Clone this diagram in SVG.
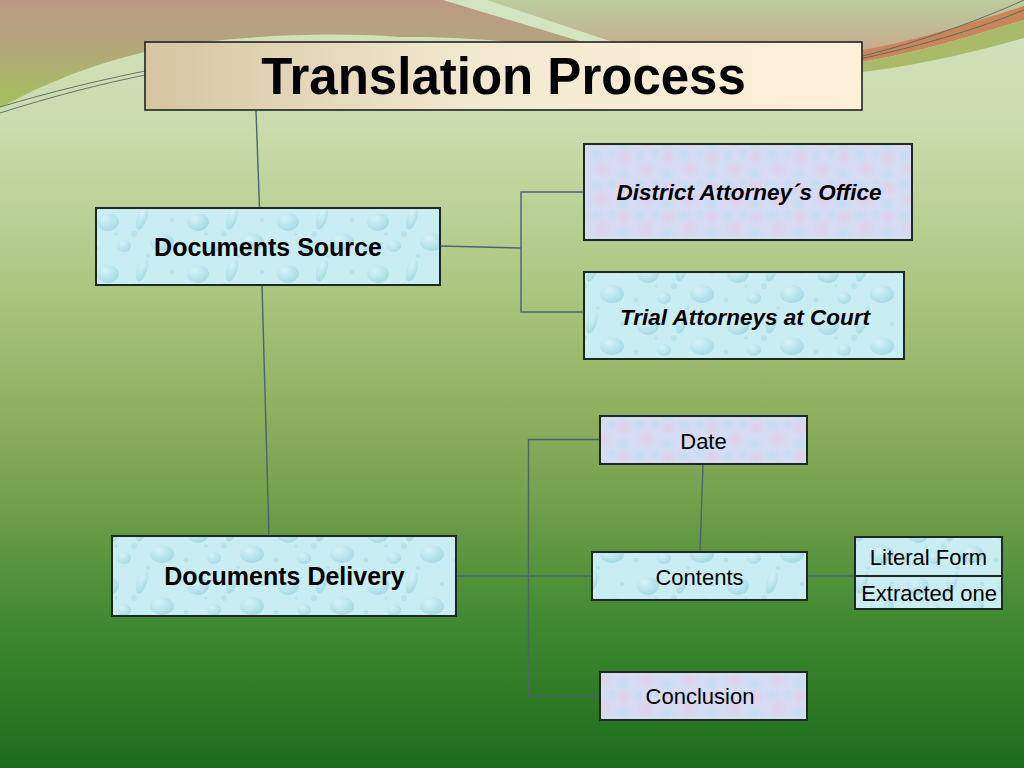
<svg xmlns="http://www.w3.org/2000/svg" width="1024" height="768" viewBox="0 0 1024 768">
<defs>
<style>
.box{stroke:#1c2a22;stroke-width:2}
.water{fill:url(#water)}
.lav{fill:url(#lav)}
.conn{fill:none;stroke:#4a6470;stroke-width:1.4}
.t{font-family:"Liberation Sans",Arial,sans-serif;fill:#000;text-anchor:middle}
.b{font-weight:bold;font-size:25px}
.bi{font-weight:bold;font-style:italic;font-size:22.5px}
.r{font-size:22px}
.thin{fill:none;stroke:#5a6460;stroke-width:0.9}
</style>
<linearGradient id="bg" x1="0" y1="0" x2="0" y2="1">
<stop offset="0" stop-color="#d3e3bd"/>
<stop offset="0.17" stop-color="#c9dcac"/>
<stop offset="0.39" stop-color="#a9c57d"/>
<stop offset="0.52" stop-color="#92b262"/>
<stop offset="0.65" stop-color="#74a04c"/>
<stop offset="0.8" stop-color="#428b32"/>
<stop offset="1" stop-color="#1b6c1a"/>
</linearGradient>
<linearGradient id="brown" x1="0" y1="0" x2="0" y2="110" gradientUnits="userSpaceOnUse">
<stop offset="0" stop-color="#bb9985"/>
<stop offset="0.35" stop-color="#b4a47e"/>
<stop offset="1" stop-color="#a5c25a"/>
</linearGradient>
<linearGradient id="rtop" x1="0" y1="0" x2="0" y2="60" gradientUnits="userSpaceOnUse">
<stop offset="0" stop-color="#bccc9c"/>
<stop offset="0.55" stop-color="#c2b894"/>
<stop offset="1" stop-color="#c9a088"/>
</linearGradient>
<linearGradient id="titleg" x1="0" y1="0" x2="1" y2="0">
<stop offset="0" stop-color="#d5c5a0"/>
<stop offset="0.45" stop-color="#f2e8d0"/>
<stop offset="1" stop-color="#fff0d9"/>
</linearGradient>
<radialGradient id="drop" cx="0.35" cy="0.3" r="0.7">
<stop offset="0" stop-color="#def5f9"/>
<stop offset="0.55" stop-color="#b4e2ec"/>
<stop offset="1" stop-color="#92cddc"/>
</radialGradient>
<radialGradient id="pink" cx="0.5" cy="0.5" r="0.5">
<stop offset="0" stop-color="#e6cbe6" stop-opacity="0.75"/>
<stop offset="1" stop-color="#e6cbe6" stop-opacity="0"/>
</radialGradient>
<radialGradient id="blue" cx="0.5" cy="0.5" r="0.5">
<stop offset="0" stop-color="#bddff4" stop-opacity="0.8"/>
<stop offset="1" stop-color="#bddff4" stop-opacity="0"/>
</radialGradient>
<pattern id="water" width="90" height="52" patternUnits="userSpaceOnUse">
<rect width="90" height="52" fill="#c8eef3"/>
<ellipse cx="18" cy="14" rx="11" ry="9" fill="url(#drop)" opacity="0.6"/>
<ellipse cx="52" cy="10" rx="5" ry="12" fill="url(#drop)" opacity="0.55" transform="rotate(18 52 10)"/>
<ellipse cx="72" cy="34" rx="12" ry="9" fill="url(#drop)" opacity="0.6"/>
<ellipse cx="34" cy="38" rx="7" ry="6" fill="url(#drop)" opacity="0.55"/>
<circle cx="44" cy="26" r="3" fill="#a8d8e4" opacity="0.5"/>
<circle cx="6" cy="40" r="2.5" fill="#a8d8e4" opacity="0.5"/>
<circle cx="82" cy="12" r="2.2" fill="#a8d8e4" opacity="0.5"/>
<circle cx="58" cy="48" r="2" fill="#a8d8e4" opacity="0.5"/>
<circle cx="26" cy="26" r="1.6" fill="#a8d8e4" opacity="0.5"/>
</pattern>
<pattern id="lav" width="44" height="30" patternUnits="userSpaceOnUse">
<rect width="44" height="30" fill="#d5dcf3"/>
<circle cx="8" cy="7" r="9" fill="url(#pink)"/>
<circle cx="30" cy="19" r="10" fill="url(#pink)"/>
<circle cx="24" cy="5" r="8" fill="url(#blue)"/>
<circle cx="7" cy="24" r="8" fill="url(#blue)"/>
<circle cx="40" cy="4" r="6" fill="url(#blue)"/>
</pattern>
</defs>

<g id="background">
<rect width="1024" height="768" fill="url(#bg)"/>
<path d="M0,0 H445 L640,58 L640,60 C560,45 470,36 400,37 C330,32 250,35 180,45 C110,57 50,80 0,108 Z" fill="url(#brown)"/>
<path d="M487,0 H1024 V8 C960,28 910,42 862,52 C780,58 700,58 620,50 Z" fill="url(#rtop)"/>
<path d="M443,0 H487 L625,46 L596,46 Z" fill="#d3e4c0"/>
<path d="M1024,6 V20 C960,40 910,54 862,62 L862,50 C910,42 960,26 1024,6 Z" fill="#c8875a"/>
<path d="M1024,20 V38 C960,56 910,66 862,72 L862,62 C910,54 960,40 1024,20 Z" fill="#a9bb6a"/>
<path class="thin" d="M0,107 C50,92 100,80 150,70"/>
<path class="thin" d="M0,113 C50,97 100,84 150,74"/>
<path class="thin" d="M855,58 C920,42 980,20 1024,0"/>
<path class="thin" d="M855,60 C930,44 985,26 1024,10"/>
</g>

<g id="connectors">
<path class="conn" d="M256,111 L259.5,208"/>
<path class="conn" d="M262,285 L269,536"/>
<path class="conn" d="M440,246 L521,248"/>
<path class="conn" d="M584,192 H521 V312 H584"/>
<path class="conn" d="M456,576 H592"/>
<path class="conn" d="M600,439.5 H528.5 V696 H600"/>
<path class="conn" d="M703,464 L700,552"/>
<path class="conn" d="M807,576 H855"/>
</g>

<g id="title">
<rect x="145" y="42" width="717" height="68" fill="url(#titleg)" stroke="#222" stroke-width="1.6"/>
<text class="t" x="503.5" y="94" font-size="51" font-weight="bold">Translation Process</text>
</g>
<g id="documents-source">
<rect class="box water" x="96" y="208" width="344" height="77"/>
<text class="t b" x="268" y="256">Documents Source</text>
</g>
<g id="district-attorney">
<rect class="box lav" x="584" y="144" width="328" height="96"/>
<text class="t bi" x="749" y="200">District Attorney´s Office</text>
</g>
<g id="trial-attorneys">
<rect class="box water" x="584" y="272" width="320" height="87"/>
<text class="t bi" x="745" y="325">Trial Attorneys at Court</text>
</g>
<g id="documents-delivery">
<rect class="box water" x="112" y="536" width="344" height="80"/>
<text class="t b" x="284.5" y="585">Documents Delivery</text>
</g>
<g id="date">
<rect class="box lav" x="600" y="416" width="207" height="48"/>
<text class="t r" x="703.5" y="449">Date</text>
</g>
<g id="contents">
<rect class="box water" x="592" y="552" width="215" height="48"/>
<text class="t r" x="699.5" y="585">Contents</text>
</g>
<g id="literal-form">
<rect class="box water" x="855" y="537" width="147" height="39"/>
<text class="t r" x="928.5" y="565">Literal Form</text>
</g>
<g id="extracted-one">
<rect class="box water" x="855" y="576" width="147" height="33"/>
<text class="t r" x="929" y="601">Extracted one</text>
</g>
<g id="conclusion">
<rect class="box lav" x="600" y="672" width="207" height="48"/>
<text class="t r" x="700" y="704">Conclusion</text>
</g>
</svg>
